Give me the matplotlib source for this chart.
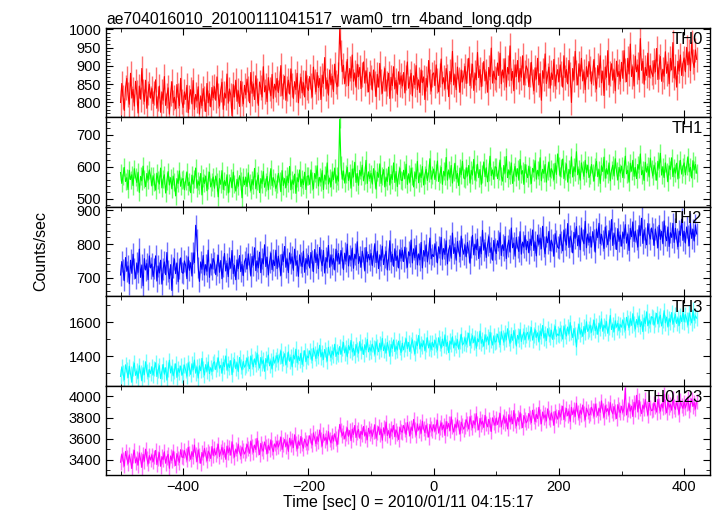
import numpy as np
import matplotlib
matplotlib.use("Agg")
import matplotlib.pyplot as plt
from matplotlib.ticker import MultipleLocator

plt.rcParams['font.family'] = ['Liberation Sans', 'DejaVu Sans']

# count rates, 2 s bins starting at t = -500 s
th0 = np.array("""
800 852 815 778 840 866 821 795 880 812 836 790 858 827 771 845 809 893 830 803 861 784 826 850 812
838 797 826 862 784 810 845 773 829 806 871 792 818 840 768 825 857 799 814 783 849 820 791 866 803
786 829 808 847 772 815 835 796 860 781 822 804 843 768 818 791 838 810 775 852 799 824 788 841 813
843 806 870 819 790 834 855 781 826 812 878 798 837 820 764 849 815 861 803 832 789 858 824 796 847
821 864 838 799 882 825 851 808 873 833 792 856 840 815 898 829 846 802 868 837 818 877 811 850 834
866 827 853 901 818 844 872 806 839 861 823 892 848 811 857 835 880 799 846 869 826 854 815 886 841
833 871 846 815 897 858 829 882 841 866 808 875 852 923 837 861 820 889 848 872 830 905 856 843 878
1000 936 884 902 851 879 918 846 893 867 930 858 881 842 905 871 896 838 876 911 853 887 862 829 883
870 834 889 851 816 877 842 907 858 825 866 893 831 853 880 811 869 846 898 837 861 822 884 850 873
845 882 826 868 911 839 857 880 818 873 849 901 835 862 827 889 854 870 808 866 842 915 858 831 877
881 846 903 860 829 875 919 851 868 838 893 872 816 885 857 940 848 876 835 897 863 828 889 856 874
899 852 887 921 846 874 905 833 881 862 937 868 890 843 878 912 859 884 828 896 871 949 853 886 867
862 908 874 935 851 889 867 920 842 896 878 955 860 885 832 903 871 915 856 893 869 928 848 881 900
889 843 876 910 858 832 895 864 921 848 879 806 887 866 933 852 874 897 839 881 863 918 845 872 890
857 903 879 842 928 868 890 851 915 876 800 893 862 940 881 848 906 872 921 859 884 835 898 870 912
894 851 882 918 863 837 901 875 928 854 886 819 897 869 942 848 880 906 861 889 832 913 871 885 858
910 866 942 889 857 921 878 960 871 898 845 927 884 903 862 975 888 913 850 896 874 935 869 901 882
871 915 884 948 863 899 926 858 891 872 939 880 905 851 921 889 964 867 898 842 913 886 930 874 907
922 884 951 903 939 887 965 912 896 944 918
""".split(), dtype=float)

th1 = np.array("""
582 548 571 598 554 566 529 589 560 575 541 594 568 551 583 520 570 556 602 563 538 579 558 590 571
540 572 551 527 580 559 546 596 534 562 575 518 557 585 543 566 531 571 552 509 563 548 587 539 560
563 528 557 584 541 552 519 574 546 561 596 533 555 542 579 512 566 548 571 525 559 583 537 551 568
533 571 552 506 563 545 588 529 557 541 575 518 550 566 534 583 546 524 561 539 572 555 503 568 544
567 538 581 549 526 560 543 595 531 556 574 519 563 547 585 536 552 570 528 559 594 541 566 553 532
546 579 557 522 588 541 563 535 571 550 601 528 559 545 577 517 566 553 590 538 561 544 583 529 570
572 545 590 556 531 579 563 603 540 567 552 588 529 574 558 612 546 565 537 584 560 596 549 571 555
748 605 561 587 549 576 598 557 582 533 593 568 614 551 579 542 589 571 605 556 575 620 548 584 563
579 546 594 561 530 583 567 609 548 572 591 537 568 554 599 543 576 560 612 551 585 538 574 596 558
557 589 563 608 545 578 552 596 571 537 584 563 617 550 581 566 601 543 575 592 557 580 625 561 574
593 560 582 618 554 577 598 545 586 571 629 558 590 567 604 549 583 611 562 579 541 596 575 617 565
562 597 571 604 549 589 574 623 558 582 608 566 591 545 578 615 569 597 553 585 633 572 590 561 600
598 563 586 621 571 555 604 580 632 566 590 575 612 548 583 601 569 594 558 623 577 588 545 607 581
566 602 574 548 595 583 619 561 589 571 628 556 592 579 607 552 587 615 568 594 583 560 611 576 640
601 570 596 624 563 587 609 552 592 578 631 568 600 584 647 575 593 558 612 589 570 620 581 605 566
574 607 582 555 598 617 569 591 548 603 585 630 564 594 577 612 556 589 605 571 625 586 559 598 580
602 566 594 633 578 589 552 611 586 620 570 598 563 607 592 640 575 589 557 614 583 601 568 627 592
571 605 588 558 617 595 642 574 600 566 612 585 553 603 591 628 569 597 580 611 562 594 620 577 599
612 575 603 631 584 598 565 619 590 607 580
""".split(), dtype=float)

th2 = np.array("""
708 748 725 691 760 719 735 682 752 713 770 727 698 744 716 785 701 738 676 757 723 742 694 765 729
741 703 728 765 690 735 714 752 681 726 747 709 775 720 697 739 662 731 756 712 744 688 727 759 716
713 750 736 697 762 722 745 705 774 745 856 812 731 689 747 725 766 708 739 719 782 701 741 726 757
745 709 738 767 716 751 697 734 772 720 743 703 759 728 781 712 737 694 753 727 766 718 740 706 748
758 726 771 742 705 763 737 789 721 750 729 776 715 757 741 798 733 761 708 747 773 724 752 736 782
727 764 738 707 770 748 793 731 756 715 774 743 762 722 785 737 751 704 768 745 733 779 716 757 741
766 729 775 751 718 784 745 769 727 790 752 736 781 714 760 747 796 731 768 740 757 723 785 749 772
741 781 760 724 773 749 800 735 766 752 788 728 770 756 807 742 763 731 779 758 720 790 747 769 753
772 736 764 801 745 779 727 768 752 794 739 761 779 723 756 810 747 770 734 786 751 765 729 783 758
782 748 791 760 731 777 765 812 744 786 759 796 738 771 753 805 729 781 764 798 747 774 818 756 769
763 801 778 744 792 771 820 755 787 769 810 741 783 796 758 833 772 790 752 808 779 763 824 786 770
797 762 805 779 743 791 826 768 800 784 815 757 793 771 841 782 804 760 797 822 775 789 752 811 786
772 810 789 834 766 798 781 823 757 795 812 776 848 789 803 764 820 792 778 837 770 806 791 826 783
808 774 815 796 842 781 806 765 827 799 818 786 853 793 771 822 804 838 780 812 797 764 831 809 791
787 829 806 780 842 815 797 861 790 824 809 774 835 817 852 795 826 783 848 812 801 868 789 830 805
823 791 837 812 776 845 819 862 801 829 810 787 851 824 798 840 815 873 796 833 818 784 846 808 827
794 836 817 858 803 829 781 847 822 866 808 839 814 791 855 826 877 802 843 819 798 861 831 815 848
830 796 845 821 789 856 814 838 801 869 825 810 851 793 834 820 862 805 847 816 792 839 826 874 811
838 803 851 826 795 862 817 844 809 857 830
""".split(), dtype=float)

th3 = np.array("""
1282 1338 1301 1262 1350 1319 1275 1342 1296 1248 1327 1360 1288 1314 1271 1345 1305 1256 1333 1292 1368 1310 1279 1322 1299
1338 1290 1327 1362 1281 1318 1345 1269 1310 1352 1295 1333 1260 1321 1377 1302 1339 1285 1314 1356 1276 1329 1306 1343 1288
1307 1349 1318 1283 1362 1330 1294 1356 1321 1378 1301 1337 1272 1344 1315 1388 1326 1290 1351 1312 1367 1298 1333 1310 1359
1368 1322 1353 1391 1330 1347 1301 1365 1339 1402 1318 1356 1334 1375 1292 1350 1381 1327 1362 1310 1393 1341 1320 1370 1336
1349 1390 1358 1327 1402 1371 1338 1385 1352 1419 1366 1331 1393 1357 1378 1312 1387 1363 1408 1344 1374 1325 1396 1360 1382
1405 1366 1398 1431 1357 1389 1415 1349 1380 1426 1371 1395 1338 1407 1384 1442 1362 1399 1375 1418 1352 1390 1433 1368 1401
1391 1432 1405 1376 1448 1418 1387 1437 1402 1465 1396 1424 1381 1440 1410 1372 1453 1415 1393 1430 1407 1471 1399 1426 1411
1458 1412 1444 1481 1420 1451 1397 1463 1437 1493 1425 1447 1406 1470 1441 1418 1486 1432 1456 1411 1468 1438 1499 1426 1452
1430 1471 1448 1412 1486 1455 1427 1477 1440 1505 1433 1462 1419 1481 1449 1401 1470 1446 1496 1428 1458 1437 1489 1453 1422
1477 1438 1469 1503 1445 1481 1428 1466 1497 1451 1415 1486 1462 1522 1443 1475 1456 1491 1432 1468 1509 1449 1478 1440 1483
1455 1494 1468 1436 1509 1475 1447 1501 1462 1526 1458 1483 1421 1490 1471 1515 1449 1480 1463 1498 1442 1487 1530 1466 1477
1508 1471 1497 1536 1462 1493 1521 1480 1512 1447 1503 1485 1548 1476 1499 1459 1527 1488 1514 1470 1541 1495 1466 1520 1483
1489 1530 1502 1468 1545 1511 1483 1537 1497 1562 1508 1476 1529 1494 1551 1515 1460 1523 1500 1558 1487 1519 1542 1498 1526
1541 1502 1533 1569 1495 1526 1557 1511 1538 1484 1549 1520 1581 1507 1535 1493 1562 1528 1514 1553 1499 1544 1576 1517 1531
1522 1565 1537 1501 1578 1546 1519 1572 1533 1598 1541 1510 1563 1527 1455 1549 1588 1530 1556 1517 1575 1538 1603 1546 1561
1583 1541 1572 1612 1550 1578 1529 1595 1562 1620 1547 1581 1566 1604 1535 1573 1640 1557 1588 1543 1609 1571 1594 1552 1586
1571 1614 1588 1553 1629 1597 1568 1621 1582 1650 1593 1560 1616 1585 1637 1574 1603 1545 1625 1592 1661 1579 1610 1589 1633
1627 1584 1615 1652 1590 1619 1641 1578 1609 1668 1596 1630 1572 1622 1601 1657 1588 1618 1646 1593 1625 1581 1639 1604 1663
1602 1645 1618 1583 1655 1627 1596 1671 1611 1638 1624
""".split(), dtype=float)

th0123 = np.array("""
3378 3455 3402 3341 3480 3423 3362 3447 3395 3318 3436 3490 3371 3418 3350 3466 3405 3329 3452 3387 3501 3415 3360 3440 3398
3446 3381 3427 3489 3355 3412 3468 3339 3431 3401 3477 3368 3425 3452 3320 3437 3394 3484 3410 3347 3459 3418 3376 3496 3430
3421 3487 3446 3398 3519 3462 3405 3478 3431 3540 3452 3384 3495 3439 3367 3470 3425 3508 3449 3392 3483 3458 3413 3526 3441
3505 3447 3489 3548 3431 3476 3519 3452 3497 3405 3530 3468 3513 3444 3571 3483 3426 3502 3461 3549 3475 3437 3521 3490 3455
3486 3547 3511 3462 3578 3525 3471 3540 3498 3603 3519 3450 3556 3505 3482 3569 3527 3459 3538 3493 3589 3514 3477 3551 3520
3576 3521 3557 3614 3498 3545 3592 3527 3570 3480 3605 3541 3583 3516 3637 3552 3503 3579 3538 3621 3549 3510 3596 3561 3530
3563 3628 3586 3541 3655 3602 3553 3618 3575 3682 3596 3530 3641 3584 3612 3549 3667 3591 3560 3629 3577 3647 3598 3545 3620
3735 3682 3629 3664 3598 3651 3703 3622 3677 3581 3690 3640 3725 3611 3659 3688 3604 3671 3638 3716 3625 3662 3590 3699 3648
3681 3622 3670 3731 3603 3655 3712 3637 3689 3585 3703 3648 3757 3629 3676 3611 3694 3663 3726 3618 3682 3652 3593 3710 3667
3662 3725 3690 3641 3753 3698 3627 3711 3676 3782 3689 3633 3740 3681 3719 3651 3766 3694 3658 3728 3683 3615 3735 3700 3672
3732 3671 3718 3775 3653 3707 3751 3688 3729 3631 3762 3697 3744 3676 3806 3715 3662 3738 3701 3779 3711 3645 3756 3724 3690
3715 3779 3746 3691 3808 3752 3702 3769 3731 3837 3748 3683 3792 3737 3765 3706 3821 3744 3712 3783 3739 3668 3797 3755 3726
3796 3735 3778 3838 3711 3766 3815 3747 3790 3692 3826 3759 3805 3741 3866 3773 3720 3799 3762 3847 3770 3705 3819 3784 3750
3773 3838 3805 3752 3869 3812 3761 3830 3790 3897 3808 3741 3852 3797 3825 3768 3882 3803 3776 3845 3796 3727 3859 3815 3785
3866 3806 3849 3907 3780 3834 3885 3817 3861 3764 3896 3829 3873 3811 3936 3846 3795 3870 3832 3918 3841 3779 3889 3855 3822
3833 3897 3866 3812 3928 3871 3820 3889 3849 3957 3867 3803 3912 3856 3884 3826 3941 3863 3835 3904 3858 3791 3922 3874 3845
3906 3848 3889 4075 3824 3875 3930 3861 3907 3810 3945 3878 4010 3852 3962 3889 3837 3918 3881 3970 3889 3823 3941 3896 3864
3873 3938 3906 3851 3971 3912 3860 3929 3890 4020 3907 3845 3955 3898 3924 3869 3985 3903 3877 3946 3898 3832 3962 3915 3886
3947 3891 3932 3985 3868 3921 3976 3905 3941 3880 3952
""".split(), dtype=float)

t_start = -500
bin_size = 2

names = ["TH0", "TH1", "TH2", "TH3", "TH0123"]
series = [th0, th1, th2, th3, th0123]
errs = [34, 28, 32, 45, 70]
colors = ["#ff0000", "#00ff00", "#0000ff", "#00ffff", "#ff00ff"]
err_colors = ["#ff7070", "#70ff70", "#7070ff", "#70ffff", "#ff70ff"]
ylims = [(759, 1004), (475, 754), (645, 911), (1228, 1753), (3257, 4102)]
majors = [50, 100, 100, 200, 200]
minors = [10, 20, 20, 100, 100]

fig, axes = plt.subplots(5, 1, figsize=(7.17, 5.16), dpi=100, sharex=True)
fig.subplots_adjust(left=0.148, right=0.990, top=0.9457, bottom=0.0795, hspace=0)

for ax, name, y, e, c, ec, yl, mj, mn in zip(axes, names, series, errs, colors, err_colors,
                                            ylims, majors, minors):
    t = t_start + bin_size * np.arange(len(y))
    ax.vlines(t, y - e, y + e, color=ec, lw=1.0)
    ax.plot(t, y, color=c, lw=0.8)
    ax.set_ylim(*yl)
    ax.set_xlim(-523, 441)
    ax.yaxis.set_major_locator(MultipleLocator(mj))
    ax.yaxis.set_minor_locator(MultipleLocator(mn))
    ax.xaxis.set_major_locator(MultipleLocator(200))
    ax.xaxis.set_minor_locator(MultipleLocator(100))
    ax.tick_params(which='both', direction='in', top=True, right=True, labelsize=10.5)
    ax.tick_params(which='major', length=5)
    ax.tick_params(which='minor', length=3)
    ax.text(0.988, 0.955, name, transform=ax.transAxes, ha='right', va='top', fontsize=12)
    for s in ax.spines.values():
        s.set_linewidth(1.0)

axes[0].set_title("ae704016010_20100111041517_wam0_trn_4band_long.qdp", loc='left', fontsize=11.3, pad=3)
axes[-1].set_xlabel("Time [sec] 0 = 2010/01/11 04:15:17", fontsize=11.5, labelpad=1)
fig.text(0.057, 0.513, "Counts/sec", rotation=90, ha='center', va='center', fontsize=11.5)

fig.savefig("out.png", dpi=100)
